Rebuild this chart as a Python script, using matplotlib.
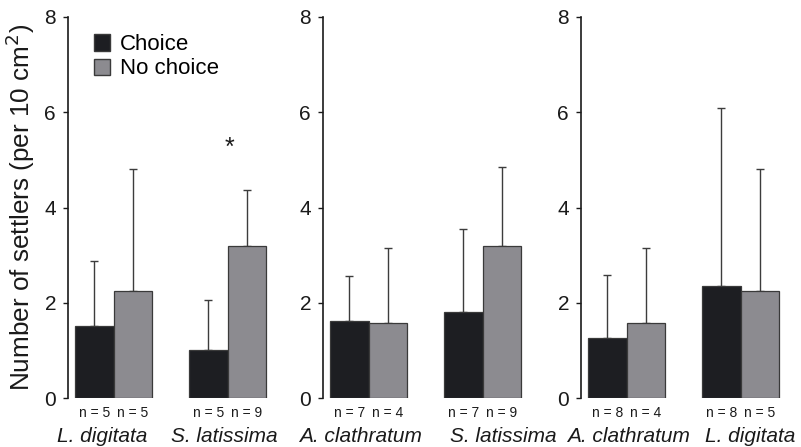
import matplotlib
matplotlib.use("Agg")
import matplotlib.pyplot as plt
from matplotlib.patches import Patch

plt.rcParams['font.family'] = ['Liberation Sans', 'DejaVu Sans']

# Data (mean and upper error) per panel: two species per panel
species = [["L. digitata", "S. latissima"],
           ["A. clathratum", "S. latissima"],
           ["A. clathratum", "L. digitata"]]
choice_mean = [[1.51, 1.00], [1.61, 1.80], [1.26, 2.35]]
choice_err_top = [[2.87, 2.05], [2.56, 3.54], [2.59, 6.09]]
nochoice_mean = [[2.25, 3.19], [1.57, 3.19], [1.57, 2.25]]
nochoice_err_top = [[4.81, 4.36], [3.14, 4.86], [3.14, 4.81]]
n_choice = [[5, 5], [7, 7], [8, 8]]
n_nochoice = [[5, 9], [4, 9], [4, 5]]
yticks = [0, 2, 4, 6, 8]

# layout: horizontal label shifts (in group units) as placed in the original
label_shift = [[-0.10, -0.03], [-0.07, 0.18], [0.02, 0.08]]

c_black = '#1d1e22'
c_gray = '#8c8b90'
edge = '#3a3a3a'
err_col = '#3c3c3c'
txt = '#1a1a1a'

fig = plt.figure(figsize=(8.01, 4.47), dpi=100)
W, H = 801, 447
axis_x = [68, 323, 581]
y0_px, y8_px = 398, 17
bw = 0.338
xl, xr = -0.40, 1.40
unit_px = 114

for p in range(3):
    width_px = (xr - xl) * unit_px
    ax = fig.add_axes([axis_x[p] / W, (H - y0_px) / H, width_px / W, (y0_px - y8_px) / H])
    xs = [0, 1]
    xb = [x - bw / 2 for x in xs]
    xg = [x + bw / 2 for x in xs]
    cm = choice_mean[p]
    nm = nochoice_mean[p]
    ce = [t - m for t, m in zip(choice_err_top[p], cm)]
    ne = [t - m for t, m in zip(nochoice_err_top[p], nm)]
    ax.errorbar(xb, cm, yerr=[[0, 0], ce], fmt='none', ecolor=err_col,
                elinewidth=1.0, capsize=2.6, capthick=1.0, zorder=1)
    ax.errorbar(xg, nm, yerr=[[0, 0], ne], fmt='none', ecolor=err_col,
                elinewidth=1.0, capsize=2.6, capthick=1.0, zorder=1)
    ax.bar(xb, cm, width=bw, color=c_black, edgecolor=edge, linewidth=0.9, zorder=2)
    ax.bar(xg, nm, width=bw, color=c_gray, edgecolor=edge, linewidth=0.9, zorder=2)
    ax.set_xlim(xl, xr)
    ax.set_ylim(0, 8)
    ax.set_yticks(yticks)
    ax.set_yticklabels([str(t) for t in yticks], fontsize=15, color=txt)
    ax.tick_params(axis='y', direction='out', length=3.6, width=1.0, pad=5, colors=txt)
    ax.tick_params(axis='x', bottom=False, labelbottom=False)
    for s in ['top', 'right', 'bottom']:
        ax.spines[s].set_visible(False)
    ax.spines['left'].set_linewidth(1.2)
    ax.spines['left'].set_color(txt)
    ax.patch.set_alpha(0)
    for i in range(2):
        ax.text(xb[i], -0.16, f"n = {n_choice[p][i]}", ha='center', va='top',
                fontsize=10, color=txt, clip_on=False)
        ax.text(xg[i], -0.16, f"n = {n_nochoice[p][i]}", ha='center', va='top',
                fontsize=10, color=txt, clip_on=False)
        ax.text(xs[i] + label_shift[p][i], -0.60, species[p][i], ha='center', va='top',
                style='italic', fontsize=15, color=txt, clip_on=False)
    if p == 0:
        ax.set_ylabel("Number of settlers (per 10 cm$^2$)", fontsize=18.8,
                      color=txt, labelpad=5)
        ax.text(1.02, 5.25, "*", ha='center', va='center', fontsize=18, color=txt)
        handles = [Patch(facecolor=c_black, edgecolor=edge, label='Choice'),
                   Patch(facecolor=c_gray, edgecolor=edge, label='No choice')]
        ax.legend(handles=handles, loc='upper left', bbox_to_anchor=(0.125, 0.955),
                  frameon=False, fontsize=16, handlelength=0.75, handleheight=0.75,
                  handletextpad=0.45, labelspacing=0.15, borderaxespad=0, borderpad=0)

fig.savefig("out.png", dpi=100)
